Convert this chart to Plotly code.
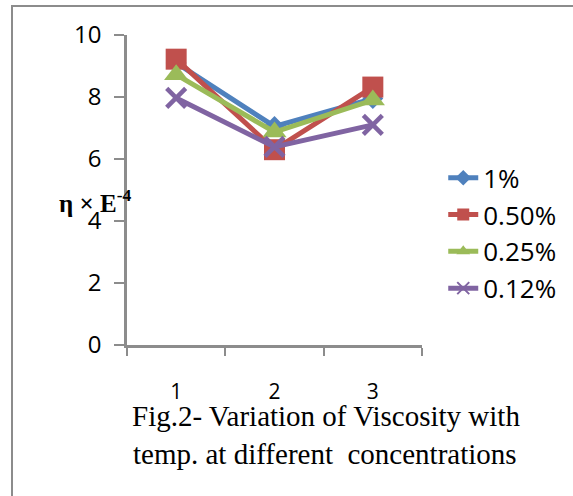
import plotly.graph_objects as go

categories = ["1", "2", "3"]
series_names = ["1%", "0.50%", "0.25%", "0.12%"]
vals_1 = [9.1, 7.05, 7.95]
vals_050 = [9.22, 6.3, 8.32]
vals_025 = [8.72, 6.87, 7.9]
vals_012 = [7.97, 6.39, 7.1]
y_ticks = [0, 2, 4, 6, 8, 10]

colors = ["#4F81BD", "#C0504D", "#9BBB59", "#8064A2"]
symbols = ["diamond", "square", "triangle-up", "x-thin"]
sizes = [16, 21, 21, 19]

fig = go.Figure()
for name, vals, c, s, sz in zip(series_names, [vals_1, vals_050, vals_025, vals_012], colors, symbols, sizes):
    marker = dict(symbol=s, size=sz, color=c)
    if s == "x-thin":
        marker["line"] = dict(color=c, width=4.5)
    fig.add_trace(go.Scatter(x=categories, y=vals, name=name, mode="lines+markers",
                             line=dict(color=c, width=5), marker=marker))

axis_gray = "#8C8C8C"
fig.update_layout(
    width=573, height=496,
    margin=dict(l=127, r=151, t=35, b=151),
    plot_bgcolor="white", paper_bgcolor="white",
    showlegend=True,
    legend=dict(x=1.072, y=0.615, xanchor="left", yanchor="top",
                font=dict(family="Open Sans", size=26, color="black"),
                tracegroupgap=0, itemsizing="constant", bgcolor="rgba(0,0,0,0)"),
    xaxis=dict(type="category", range=[-0.5, 2.5], tickson="boundaries", ticks="outside", ticklen=8,
               tickwidth=2, tickcolor=axis_gray, showline=True, linecolor=axis_gray,
               linewidth=2.5, showgrid=False, ticklabelstandoff=26,
               tickfont=dict(family="Open Sans", size=21, color="black")),
    yaxis=dict(range=[0, 10], tickvals=y_ticks, ticks="outside", ticklen=10,
               tickwidth=2, tickcolor=axis_gray, showline=True, linecolor=axis_gray,
               linewidth=2.5, showgrid=False, zeroline=False, ticklabelstandoff=8,
               tickfont=dict(family="Open Sans", size=24, color="black")),
)

fig.add_shape(type="rect", xref="paper", yref="paper",
              x0=(12 - 127) / 295, x1=3, y0=-3, y1=(345 - 6) / 310,
              line=dict(color="#8C8C8C", width=2), fillcolor="rgba(0,0,0,0)", layer="below")

fig.add_annotation(text="<b>η × E<sup>-4</sup></b>", xref="paper", yref="paper",
                   x=(95 - 127) / 295, y=(345 - 201) / 310, xanchor="center", yanchor="middle",
                   showarrow=False,
                   font=dict(family="Liberation Serif", size=25, color="black"))

fig.add_annotation(text="Fig.2- Variation of Viscosity with", xref="paper", yref="paper",
                   x=(326 - 127) / 295, y=(345 - 416) / 310, xanchor="center", yanchor="middle",
                   showarrow=False,
                   font=dict(family="Liberation Serif", size=29, color="black"))
fig.add_annotation(text="temp. at different  concentrations", xref="paper", yref="paper",
                   x=(325 - 127) / 295, y=(345 - 454) / 310, xanchor="center", yanchor="middle",
                   showarrow=False,
                   font=dict(family="Liberation Serif", size=29, color="black"))

fig.write_html("out.html")
